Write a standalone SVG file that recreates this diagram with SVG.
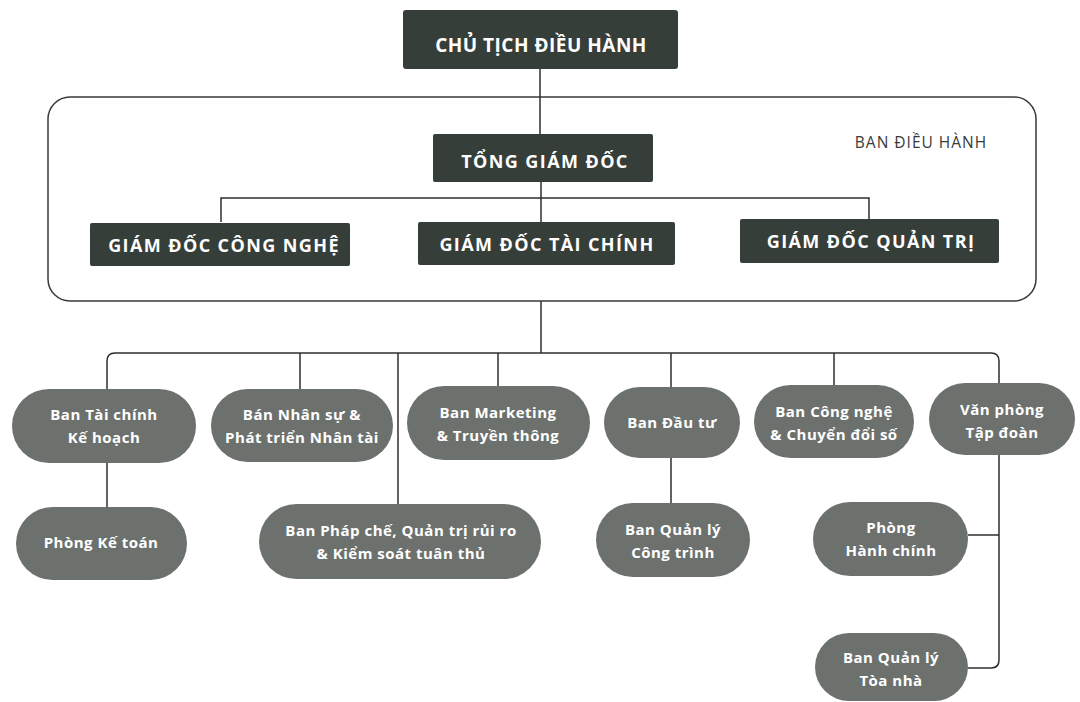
<svg xmlns="http://www.w3.org/2000/svg" width="1080" height="702" viewBox="0 0 1080 702">
<style>
.dark{fill:#363e3a}
.pill{fill:#6c716e}
.t1{font-family:"Open Sans","Liberation Sans",sans-serif;font-weight:700;fill:#ffffff;text-anchor:middle}
.hd{font-size:18px;letter-spacing:1.4px}
.pt{font-size:15px;letter-spacing:0.5px}
.lbl{font-family:"Open Sans","Liberation Sans",sans-serif;font-size:15.5px;letter-spacing:1px;fill:#3a3a3a;text-anchor:middle}
.con{fill:none;stroke:#2e2e2e;stroke-width:1.5}
</style>
<rect width="1080" height="702" fill="#ffffff"/>
<g id="ban-dieu-hanh">
<rect x="48" y="97" width="988" height="204" rx="22" fill="none" stroke="#3a3a3a" stroke-width="1.5"/>
<text class="lbl" x="921" y="148">BAN ĐIỀU HÀNH</text>
</g>
<g id="connectors">
<path class="con" d="M540 69 V134"/>
<path class="con" d="M541 182 V222"/>
<path class="con" d="M221 222 V198 H869 V219"/>
<path class="con" d="M541 301 V353"/>
<path class="con" d="M107 389 V361 Q107 353 115 353 H991 Q999 353 999 361 V383"/>
<path class="con" d="M300 353 V389"/>
<path class="con" d="M398 353 V504"/>
<path class="con" d="M498 353 V386"/>
<path class="con" d="M671 353 V387"/>
<path class="con" d="M834 353 V385"/>
<path class="con" d="M107 463 V507"/>
<path class="con" d="M671 458 V503"/>
<path class="con" d="M999 455 V660 Q999 668 991 668 H968"/>
<path class="con" d="M968 535 H999"/>
</g>
<g id="chu-tich">
<rect class="dark" x="403" y="10" width="275" height="59" rx="3"/>
<text class="t1" x="541" y="52" font-size="19" letter-spacing="0.5">CHỦ TỊCH ĐIỀU HÀNH</text>
</g>
<g id="tong-giam-doc">
<rect class="dark" x="433" y="134" width="220" height="48" rx="2"/>
<text class="t1 hd" x="545" y="168">TỔNG GIÁM ĐỐC</text>
</g>
<g id="gd-cong-nghe">
<rect class="dark" x="90" y="223" width="260" height="43" rx="2"/>
<text class="t1 hd" x="224" y="252">GIÁM ĐỐC CÔNG NGHỆ</text>
</g>
<g id="gd-tai-chinh">
<rect class="dark" x="418" y="222" width="257" height="43" rx="2"/>
<text class="t1 hd" x="547" y="251">GIÁM ĐỐC TÀI CHÍNH</text>
</g>
<g id="gd-quan-tri">
<rect class="dark" x="740" y="219" width="259" height="44" rx="2"/>
<text class="t1 hd" x="871" y="248">GIÁM ĐỐC QUẢN TRỊ</text>
</g>
<g id="ban-tai-chinh">
<rect class="pill" x="12" y="389" width="184" height="74" rx="37"/>
<text class="t1 pt" x="104" y="420">Ban Tài chính</text>
<text class="t1 pt" x="104" y="443">Kế hoạch</text>
</g>
<g id="ban-nhan-su">
<rect class="pill" x="211" y="389" width="182" height="73" rx="36.5"/>
<text class="t1 pt" x="302" y="420">Bán Nhân sự &amp;</text>
<text class="t1 pt" x="302" y="443">Phát triển Nhân tài</text>
</g>
<g id="ban-marketing">
<rect class="pill" x="407" y="386" width="183" height="74" rx="37"/>
<text class="t1 pt" x="498" y="418">Ban Marketing</text>
<text class="t1 pt" x="498" y="441">&amp; Truyền thông</text>
</g>
<g id="ban-dau-tu">
<rect class="pill" x="604" y="387" width="136" height="71" rx="35.5"/>
<text class="t1 pt" x="672" y="428">Ban Đầu tư</text>
</g>
<g id="ban-cong-nghe">
<rect class="pill" x="754" y="385" width="160" height="73" rx="36.5"/>
<text class="t1 pt" x="834" y="417">Ban Công nghệ</text>
<text class="t1 pt" x="834" y="440">&amp; Chuyển đổi số</text>
</g>
<g id="van-phong">
<rect class="pill" x="929" y="383" width="146" height="72" rx="36"/>
<text class="t1 pt" x="1002" y="415">Văn phòng</text>
<text class="t1 pt" x="1002" y="438">Tập đoàn</text>
</g>
<g id="phong-ke-toan">
<rect class="pill" x="16" y="507" width="171" height="73" rx="36.5"/>
<text class="t1 pt" x="101" y="548">Phòng Kế toán</text>
</g>
<g id="ban-phap-che">
<rect class="pill" x="259" y="504" width="282" height="75" rx="37.5"/>
<text class="t1 pt" x="401" y="536">Ban Pháp chế, Quản trị rủi ro</text>
<text class="t1 pt" x="401" y="559">&amp; Kiểm soát tuân thủ</text>
</g>
<g id="ban-ql-cong-trinh">
<rect class="pill" x="596" y="503" width="154" height="74" rx="37"/>
<text class="t1 pt" x="673" y="535">Ban Quản lý</text>
<text class="t1 pt" x="673" y="558">Công trình</text>
</g>
<g id="phong-hanh-chinh">
<rect class="pill" x="813" y="502" width="155" height="74" rx="37"/>
<text class="t1 pt" x="891" y="533">Phòng</text>
<text class="t1 pt" x="891" y="556">Hành chính</text>
</g>
<g id="ban-ql-toa-nha">
<rect class="pill" x="815" y="633" width="153" height="68" rx="34"/>
<text class="t1 pt" x="891" y="663">Ban Quản lý</text>
<text class="t1 pt" x="891" y="686">Tòa nhà</text>
</g>
</svg>
